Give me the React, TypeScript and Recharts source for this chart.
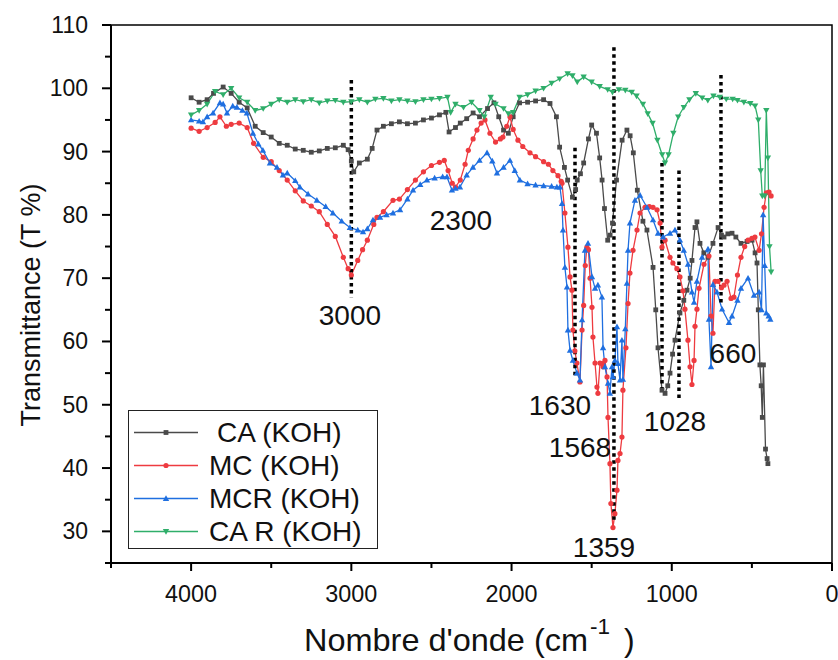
import React from 'react';
import { LineChart, Line, XAxis, YAxis, ReferenceLine, ReferenceDot, ReferenceArea } from 'recharts';

// FTIR spectra, wavenumber (cm-1) vs transmittance (%)
const caWave = [4000, 3950, 3900, 3860, 3800, 3750, 3700, 3650, 3600, 3550, 3500, 3450, 3400, 3350, 3300, 3250, 3200, 3150, 3100, 3050, 3020, 3000, 2985, 2950, 2900, 2870, 2840, 2800, 2750, 2700, 2650, 2600, 2550, 2500, 2450, 2410, 2390, 2350, 2320, 2280, 2240, 2200, 2150, 2110, 2080, 2050, 2020, 1990, 1950, 1900, 1850, 1800, 1760, 1720, 1700, 1670, 1650, 1620, 1600, 1590, 1570, 1550, 1520, 1500, 1470, 1450, 1435, 1420, 1400, 1385, 1370, 1345, 1310, 1280, 1260, 1240, 1215, 1180, 1155, 1117, 1100, 1086, 1061, 1042, 1025, 1011, 995, 980, 949, 925, 905, 885, 874, 855, 843, 824, 800, 774, 743, 711, 690, 674, 650, 624, 600, 568, 530, 499, 480, 468, 460, 450, 442, 435, 428, 415, 405, 400];
const caT = [98.5, 97.8, 98.2, 99.2, 100.2, 99.2, 97.8, 96.9, 94, 93, 92.3, 91.3, 91, 90.4, 90.2, 89.9, 90.1, 90.5, 90.6, 91, 90.3, 88.5, 86.8, 88.2, 88.8, 90.5, 93.4, 94, 94.4, 94.7, 94.4, 94.5, 95, 95.3, 95.8, 96.2, 93.1, 93.8, 94.5, 95.2, 96.1, 95.5, 96.8, 97.7, 95.5, 93.4, 92.9, 95.5, 97.7, 97.8, 98, 98.2, 97.6, 95.5, 90.7, 87.5, 85.5, 82.8, 84, 85.5, 86.5, 88.2, 92, 94.2, 92.9, 89, 85.5, 81, 76, 76.8, 78.7, 85.5, 91.8, 93.4, 92.5, 89.8, 83.9, 79, 77.6, 71.7, 65, 59, 52.3, 51.8, 53, 55, 58, 60.2, 64.5, 66.5, 68.1, 70, 72.8, 78, 78.9, 75.5, 74, 73.3, 75.5, 78, 76.8, 76.5, 77, 77.1, 76.5, 75.5, 75.8, 76, 74, 72.4, 65, 56.3, 53, 48, 56.3, 43, 41.5, 40.7];

const mcWave = [4000, 3950, 3900, 3850, 3820, 3780, 3750, 3700, 3650, 3610, 3550, 3500, 3450, 3400, 3350, 3300, 3250, 3200, 3150, 3100, 3050, 3020, 3000, 2960, 2930, 2900, 2860, 2840, 2800, 2740, 2700, 2650, 2600, 2550, 2500, 2450, 2420, 2396, 2370, 2350, 2320, 2290, 2270, 2240, 2216, 2190, 2166, 2135, 2100, 2070, 2054, 2030, 2010, 1990, 1960, 1930, 1885, 1850, 1800, 1770, 1742, 1710, 1690, 1685, 1667, 1648, 1635, 1623, 1617, 1605, 1592, 1573, 1560, 1550, 1540, 1530, 1520, 1510, 1498, 1492, 1479, 1467, 1461, 1448, 1435, 1429, 1417, 1404, 1398, 1386, 1380, 1367, 1355, 1342, 1336, 1323, 1311, 1305, 1286, 1273, 1261, 1242, 1217, 1198, 1167, 1140, 1117, 1092, 1073, 1061, 1042, 1011, 993, 968, 949, 930, 918, 899, 886, 874, 861, 855, 843, 830, 799, 768, 755, 743, 730, 711, 690, 674, 655, 630, 612, 590, 568, 545, 524, 500, 481, 455, 440, 424, 410, 393, 380];
const mcT = [93.7, 93.2, 93.8, 94.6, 95.5, 94, 94.3, 94.5, 93.8, 91.3, 89.1, 88.4, 87, 85.5, 83.8, 82.2, 81.4, 80.5, 78.5, 76.6, 73.3, 71.5, 70.5, 72.8, 74.5, 76, 78.5, 79.6, 80.5, 82.3, 82.5, 84, 85.5, 86.8, 87.8, 88.3, 88.6, 87, 85, 84.4, 85.5, 88, 90.2, 92, 93.4, 94.5, 95, 92.9, 91.5, 92, 92.3, 94, 95.5, 93.5, 91.8, 90.8, 89.8, 89.2, 88.4, 88, 87, 86.2, 85.3, 85, 80.3, 74.9, 70.2, 68.1, 61.8, 58.5, 56.6, 53.6, 61.8, 65.7, 72, 74.9, 74.5, 70, 65.4, 60.7, 56.6, 52.8, 51.8, 56.6, 56.5, 56, 57, 54.4, 48, 40.7, 34.4, 30.6, 32.8, 36.5, 41.2, 42.3, 44.9, 52.3, 59, 66, 70.8, 74.4, 77.6, 80.3, 81.2, 81.3, 81.2, 80.8, 78.7, 74.9, 76, 73.3, 72.4, 71.5, 70.2, 68, 65.1, 60.2, 56, 53.2, 57, 62.4, 65.1, 68.4, 72.2, 73.5, 64, 61.3, 69.5, 69.5, 68.5, 68.9, 69.5, 66.8, 67, 70.5, 73.3, 75, 76, 76.3, 76.5, 74.4, 77, 81.2, 83.5, 83.6, 83];

const mcrWave = [4000, 3950, 3926, 3900, 3863, 3820, 3800, 3776, 3740, 3714, 3680, 3652, 3614, 3580, 3552, 3508, 3464, 3427, 3400, 3350, 3321, 3270, 3215, 3160, 3115, 3060, 3009, 2960, 2927, 2900, 2865, 2821, 2780, 2740, 2696, 2650, 2615, 2570, 2528, 2480, 2430, 2403, 2372, 2350, 2322, 2280, 2241, 2200, 2153, 2120, 2091, 2050, 2010, 1980, 1948, 1900, 1850, 1800, 1750, 1717, 1698, 1685, 1679, 1667, 1654, 1648, 1635, 1617, 1592, 1573, 1560, 1542, 1523, 1498, 1479, 1461, 1436, 1429, 1417, 1398, 1386, 1373, 1367, 1355, 1342, 1336, 1323, 1311, 1305, 1290, 1280, 1273, 1261, 1230, 1198, 1155, 1117, 1086, 1055, 1011, 980, 949, 925, 899, 874, 861, 843, 811, 774, 768, 755, 743, 718, 686, 643, 624, 590, 568, 524, 487, 455, 440, 430, 420, 410, 395, 385];
const mcrT = [95, 94.8, 94.7, 95.5, 96.1, 97.7, 97.5, 96.1, 97.2, 97, 96.5, 96.1, 92.9, 91.2, 90.2, 88.2, 87.5, 86.3, 86.6, 85.4, 84.4, 83.3, 82.3, 81.3, 80.3, 79, 78, 77.6, 77.3, 77.8, 79.2, 79.6, 80, 80.3, 80.8, 82.5, 83.9, 84.8, 85.5, 85.8, 86, 86, 83.9, 84.2, 84.4, 86.3, 87.5, 88.6, 89.8, 88.5, 86.6, 87.5, 88.6, 87, 85.5, 84.9, 84.7, 84.6, 84.5, 84.4, 84.4, 81.8, 77.6, 71.7, 68.6, 61.8, 58.6, 57, 55, 53.9, 63.4, 74.4, 75.5, 70.2, 68.4, 68.9, 67, 59, 56, 53.4, 51.8, 56, 54.4, 57, 62.3, 56.5, 53.9, 60.2, 54, 62, 69.2, 74.4, 78.7, 82.3, 83.1, 81.2, 79.2, 77.1, 76.5, 77.1, 77.6, 76, 74.4, 72.2, 67.8, 66.2, 69.5, 73.3, 74.6, 63.5, 56, 69, 67.8, 65.1, 63, 64, 66.5, 68.4, 70, 67.3, 67.8, 65, 80, 72, 64.5, 64, 63.5];

const carWave = [4000, 3950, 3900, 3850, 3800, 3750, 3700, 3650, 3600, 3550, 3500, 3450, 3400, 3350, 3300, 3250, 3200, 3150, 3100, 3050, 3000, 2950, 2900, 2850, 2800, 2750, 2700, 2650, 2600, 2550, 2500, 2450, 2400, 2380, 2350, 2300, 2250, 2200, 2170, 2130, 2100, 2050, 2020, 1990, 1950, 1900, 1850, 1800, 1750, 1700, 1650, 1620, 1590, 1550, 1500, 1450, 1400, 1370, 1330, 1290, 1250, 1220, 1180, 1150, 1120, 1090, 1060, 1042, 1020, 990, 960, 925, 890, 850, 810, 775, 740, 700, 660, 620, 590, 550, 510, 480, 460, 445, 435, 420, 410, 400, 390, 380];
const carT = [95.8, 96.5, 97.5, 99.5, 99, 100, 98.5, 97.8, 96.5, 96.8, 97.5, 98.2, 97.8, 98.2, 97.9, 98.2, 97.7, 98, 98.1, 97.8, 97.9, 98.2, 97.8, 98.3, 98.4, 98, 98.2, 98, 97.9, 98.2, 98.3, 98.4, 98.6, 96.2, 97.5, 97, 97.8, 96.5, 95.5, 98.6, 97.5, 96.8, 96, 96.2, 98.6, 99, 99.6, 100, 100.8, 101.5, 102.3, 102, 101, 101.8, 101, 100.3, 99.8, 99.4, 99.8, 99.7, 99.4, 98.8, 97.5, 96, 94.5, 91.8, 89.5, 88.2, 89.5, 92.9, 95.5, 97, 98.2, 99.2, 98.5, 98.1, 98.8, 98.6, 98.3, 98.3, 98.1, 97.8, 97.6, 97.2, 95, 87, 83, 83, 96.5, 89, 75, 71];

const seriesNames = ['CA (KOH)', 'MC (KOH)', 'MCR (KOH)', 'CA R (KOH)'];
const xTicks = [0, 500, 1000, 1500, 2000, 2500, 3000, 3500, 4000, 4500];
const yTicks = [25, 30, 35, 40, 45, 50, 55, 60, 65, 70, 75, 80, 85, 90, 95, 100, 105, 110];

// marked bands: wavenumber, top and bottom of the dotted guide
const bandWave = [3000, 1604, 1361, 1061, 955, 693];
const bandTop = [101.3, 90.6, 106.5, 88.2, 87, 102.1];
const bandBottom = [67, 54.2, 31.3, 51.8, 50.7, 65.7];

const peakLabels = ['3000', '2300', '1630', '1568', '1359', '1028', '660'];
const peakLabelAt = [
  [3009, 64.2], [2316, 79.2], [1698, 49.9], [1573, 43.3], [1423, 27.5], [980, 47.4], [618, 58.1],
];

const FONT = '"Liberation Sans", Arial, sans-serif';
const COLORS = ['#4a4a4a', '#ee3b40', '#1f6fe0', '#2fae6a'];
const SHAPES = ['square', 'circle', 'up', 'down'];

const zip = (xs: number[], ys: number[]) => xs.map((x, i) => ({ x, t: ys[i] }));
const seriesData = [zip(caWave, caT), zip(mcWave, mcT), zip(mcrWave, mcrT), zip(carWave, carT)];

function Marker({ shape, cx, cy, color }: any) {
  if (shape === 'square') return <rect x={cx - 2.4} y={cy - 2.4} width={4.8} height={4.8} fill={color} />;
  if (shape === 'circle') return <circle cx={cx} cy={cy} r={2.6} fill={color} />;
  if (shape === 'up') return <polygon points={`${cx},${cy - 3.3} ${cx + 3.2},${cy + 2.4} ${cx - 3.2},${cy + 2.4}`} fill={color} />;
  return <polygon points={`${cx},${cy + 3.3} ${cx + 3.2},${cy - 2.4} ${cx - 3.2},${cy - 2.4}`} fill={color} />;
}

const makeDot = (i: number) => (props: any) => {
  const { cx, cy, index } = props;
  if (cx == null || cy == null) return <g key={`e-${i}-${index}`} />;
  return (
    <g key={`d-${i}-${index}`}>
      <Marker shape={SHAPES[i]} cx={cx} cy={cy} color={COLORS[i]} />
    </g>
  );
};

const XTick = (props: any) => {
  const { x, y, payload } = props;
  const major = payload.value % 1000 === 0;
  const label = String(payload.value);
  return (
    <g>
      <line x1={x} x2={x} y1={y} y2={y + (major ? 8 : 5)} stroke="#000" strokeWidth={2} />
      {major && (
        <text x={x} y={y + 30} textAnchor="middle" dominantBaseline="central" fontFamily={FONT} fontSize={24}
          fill="#111" textLength={label.length * 13} lengthAdjust="spacingAndGlyphs">
          {label}
        </text>
      )}
    </g>
  );
};

const YTick = (props: any) => {
  const { x, y, payload } = props;
  const major = payload.value % 10 === 0;
  return (
    <g>
      <line x1={x} x2={x - (major ? 9 : 6)} y1={y} y2={y} stroke="#000" strokeWidth={2} />
      {major && (
        <text x={x - 23} y={y} textAnchor="end" dominantBaseline="central" fontFamily={FONT} fontSize={23} fill="#111">
          {payload.value}
        </text>
      )}
    </g>
  );
};

const LegendBox = () => (
  <div style={{ position: 'absolute', left: 128, top: 410, width: 250, height: 139, border: '1px solid #222', background: '#fff', boxSizing: 'border-box', paddingTop: 5, fontFamily: FONT, fontSize: 28, color: '#111' }}>
    {seriesNames.map((name, i) => (
      <div key={name} style={{ display: 'flex', alignItems: 'center', height: 33 }}>
        <svg width={74} height={33} style={{ flex: 'none' }}>
          <line x1={5} x2={69} y1={16.5} y2={16.5} stroke={COLORS[i]} strokeWidth={1.5} />
          <Marker shape={SHAPES[i]} cx={37} cy={16.5} color={COLORS[i]} />
        </svg>
        <span style={{ marginLeft: i === 0 ? 14 : 6, lineHeight: '33px', whiteSpace: 'nowrap' }}>{name}</span>
      </div>
    ))}
  </div>
);

const XTitle = () => (
  <g fontFamily={FONT} fill="#111">
    <text x={304} y={640} fontSize={32} dominantBaseline="central" textLength={284} lengthAdjust="spacingAndGlyphs">Nombre d'onde (cm</text>
    <text x={590} y={626} fontSize={22} dominantBaseline="central" textLength={20} lengthAdjust="spacingAndGlyphs">-1</text>
    <text x={624} y={640} fontSize={32} dominantBaseline="central">)</text>
  </g>
);

const YTitle = () => (
  <text x={31} y={305} transform="rotate(-90, 31, 305)" textAnchor="middle" dominantBaseline="central" fontFamily={FONT} fontSize={27} fill="#111">
    Transmittance (T %)
  </text>
);

export default function App() {
  return (
    <div style={{ position: 'absolute', left: 0, top: 0, width: 838, height: 660, background: '#fff' }}>
      <LineChart width={838} height={660} margin={{ top: 25, right: 6, left: 51, bottom: 57 }}>
        <XAxis type="number" dataKey="x" domain={[0, 4500]} reversed ticks={xTicks} interval={0} allowDataOverflow
          tick={<XTick />} tickSize={0} tickMargin={0} tickLine={false} height={40}
          axisLine={{ stroke: '#000', strokeWidth: 2 }} label={{ content: <XTitle /> }} />
        <YAxis type="number" domain={[25, 110]} ticks={yTicks} interval={0} allowDataOverflow
          tick={<YTick />} tickSize={0} tickMargin={0} tickLine={false} width={60}
          axisLine={{ stroke: '#000', strokeWidth: 2 }} label={{ content: <YTitle /> }} />
        <ReferenceArea x1={0} x2={4500} y1={25} y2={110} fill="none" stroke="#000" strokeWidth={1.5} />
        {seriesData.map((d, i) => (
          <Line key={seriesNames[i]} data={d} dataKey="t" name={seriesNames[i]} type="linear"
            stroke={COLORS[i]} strokeWidth={1.3} dot={makeDot(i)} activeDot={false} isAnimationActive={false} />
        ))}
        {bandWave.map((w, i) => (
          <ReferenceLine key={`b${i}`} segment={[{ x: w, y: bandTop[i] }, { x: w, y: bandBottom[i] }]}
            stroke="#000" strokeWidth={3.5} strokeDasharray="3.5 3.5" />
        ))}
        {peakLabels.map((t, i) => (
          <ReferenceDot key={`p${i}`} x={peakLabelAt[i][0]} y={peakLabelAt[i][1]} r={0} fill="none" stroke="none"
            label={{ value: t, position: 'center', fontSize: 28, fill: '#111', fontFamily: FONT }} />
        ))}
      </LineChart>
      <LegendBox />
    </div>
  );
}
